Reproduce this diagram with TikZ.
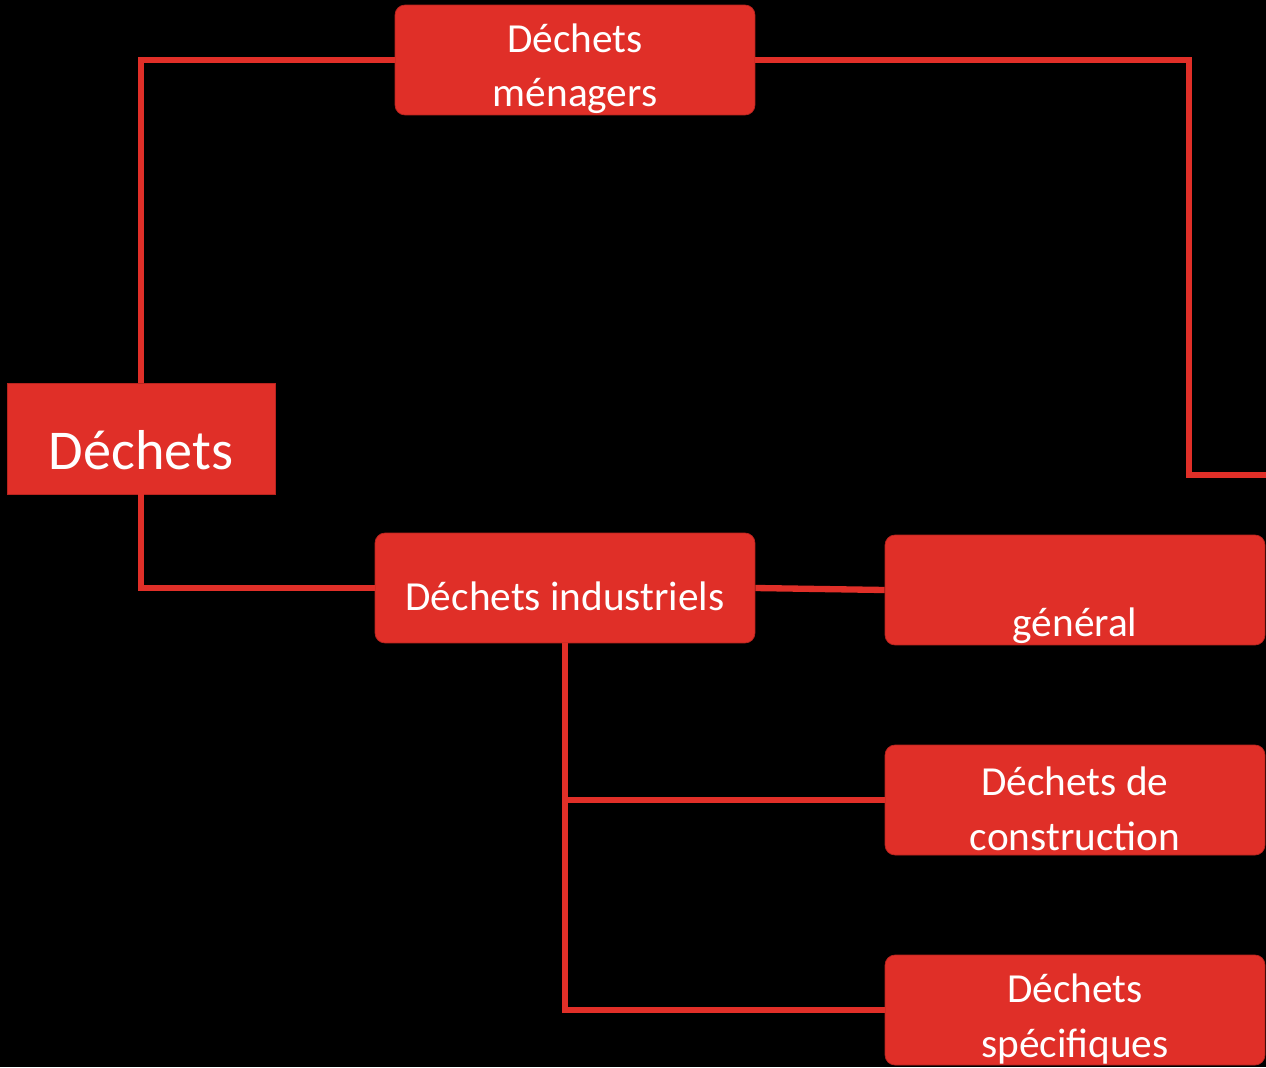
\documentclass[tikz,border=0pt]{standalone}
\usepackage{fontspec}
\setmainfont{Carlito}
\usetikzlibrary{positioning}
\definecolor{dred}{HTML}{E02F28}
\definecolor{dredline}{HTML}{B8241F}
\newcommand{\pad}{\rule{0pt}{1.12em}}
\begin{document}
\begin{tikzpicture}[x=0.02cm, y=-0.02cm,
  box/.style={draw=dredline, line width=0.4pt, fill=dred, text=white, rectangle, rounded corners=0.2cm, minimum width=7.6cm, minimum height=2.2cm, inner sep=0pt, align=center, font=\fontsize{23.5}{31}\selectfont},
  link/.style={dred, line width=3.6pt}]
\fill[black] (0,0) rectangle (1266,1067);
\useasboundingbox (0,0) rectangle (1266,1067);
\node[box, rounded corners=0pt, minimum width=5.36cm, minimum height=2.22cm, font=\fontsize{32}{38}\selectfont] (root) at (141,438.5) {\pad Déchets};
\node[box, minimum width=7.2cm] (men) at (575,60) {\pad Déchets\\ménagers};
\node[box] (ind) at (565,588) {\pad Déchets industriels};
\node[box] (gen) at (1075,590) {\pad\phantom{Déchets de}\\général};
\node[box] (con) at (1075,800) {\pad Déchets de\\construction};
\node[box] (spe) at (1075,1010) {\pad Déchets\\spécifiques};
\coordinate (bend) at (1189,475);
\coordinate (out) at (1266,475);

\draw[link] (root.north) |- (men.west);
\draw[link] (men.east) -| (bend) -- (out);
\draw[link] (root.south) |- (ind.west);
\draw[link] (ind.east) -- (gen.west);
\draw[link] (ind.south) |- (spe.west);
\draw[link] (ind.south |- con.west) -- (con.west);
\end{tikzpicture}
\end{document}
